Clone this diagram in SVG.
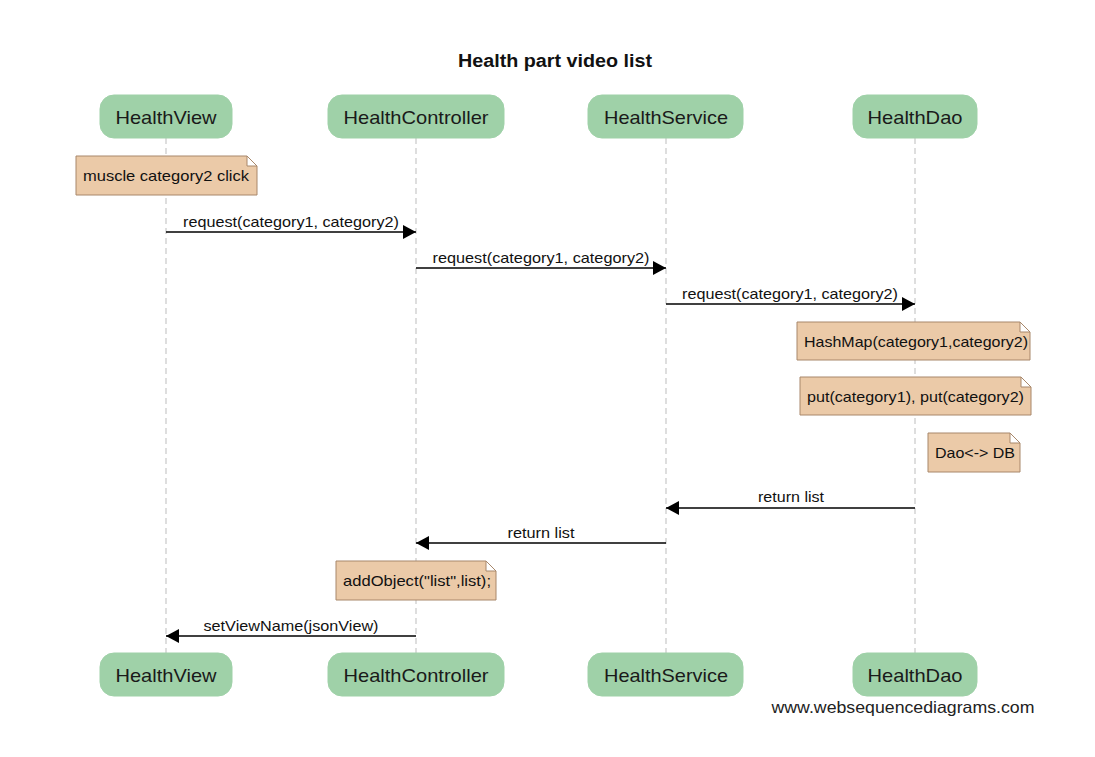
<svg xmlns="http://www.w3.org/2000/svg" width="1095" height="757" viewBox="0 0 1095 757">
<defs>
<style>
.part rect{fill:#9fd1a8;stroke:#9fd1a8;stroke-width:1}
.part text{font-family:"Liberation Sans",Arial,sans-serif;font-size:18.5px;fill:#1a1a1a;text-anchor:middle}
.note path{fill:#ebcaa8;stroke:#a8876a;stroke-width:1}
.note text{font-family:"Liberation Sans",Arial,sans-serif;font-size:15px;fill:#111;text-anchor:middle}
.life{stroke:#bdbdbd;stroke-width:1;stroke-dasharray:6,4;fill:none}
.msg line{stroke:#000;stroke-width:1.3}
.msg text{font-family:"Liberation Sans",Arial,sans-serif;font-size:15px;fill:#111;text-anchor:middle}
.title{font-family:"Liberation Sans",Arial,sans-serif;font-size:17.5px;font-weight:bold;fill:#111;text-anchor:middle}
.wm{font-family:"Liberation Sans",Arial,sans-serif;font-size:16.5px;fill:#222;text-anchor:middle}
</style>
<marker id="ah" markerWidth="13" markerHeight="14" refX="13" refY="7" orient="auto" markerUnits="userSpaceOnUse">
<path d="M0,0 L13,7 L0,14 Z" fill="#000"/>
</marker>
</defs>
<rect width="1095" height="757" fill="#fff"/>
<text class="title" x="555" y="67" textLength="194" lengthAdjust="spacingAndGlyphs">Health part video list</text>

<g id="lifelines">
<line class="life" x1="166" y1="138" x2="166" y2="653"/>
<line class="life" x1="416" y1="138" x2="416" y2="653"/>
<line class="life" x1="666" y1="138" x2="666" y2="653"/>
<line class="life" x1="915" y1="138" x2="915" y2="653"/>
</g>

<g id="HealthView" class="part">
<rect x="100" y="95" width="132" height="43" rx="14"/>
<text x="166" y="124" textLength="101" lengthAdjust="spacingAndGlyphs">HealthView</text>
<rect x="100" y="653" width="132" height="43" rx="14"/>
<text x="166" y="682" textLength="101" lengthAdjust="spacingAndGlyphs">HealthView</text>
</g>
<g id="HealthController" class="part">
<rect x="328" y="95" width="176" height="43" rx="14"/>
<text x="416" y="124" textLength="145" lengthAdjust="spacingAndGlyphs">HealthController</text>
<rect x="328" y="653" width="176" height="43" rx="14"/>
<text x="416" y="682" textLength="145" lengthAdjust="spacingAndGlyphs">HealthController</text>
</g>
<g id="HealthService" class="part">
<rect x="588" y="95" width="155" height="43" rx="14"/>
<text x="666" y="124" textLength="124" lengthAdjust="spacingAndGlyphs">HealthService</text>
<rect x="588" y="653" width="155" height="43" rx="14"/>
<text x="666" y="682" textLength="124" lengthAdjust="spacingAndGlyphs">HealthService</text>
</g>
<g id="HealthDao" class="part">
<rect x="853" y="95" width="124" height="43" rx="14"/>
<text x="915" y="124" textLength="95" lengthAdjust="spacingAndGlyphs">HealthDao</text>
<rect x="853" y="653" width="124" height="43" rx="14"/>
<text x="915" y="682" textLength="95" lengthAdjust="spacingAndGlyphs">HealthDao</text>
</g>

<g id="note-muscle" class="note">
<path d="M76,156 H247 L257,166 V195 H76 Z M247,156 V166 H257"/>
<text x="166" y="181" textLength="166" lengthAdjust="spacingAndGlyphs">muscle category2 click</text>
</g>
<g id="note-hashmap" class="note">
<path d="M797,322 H1020 L1030,332 V360 H797 Z M1020,322 V332 H1030"/>
<text x="916" y="347" textLength="224" lengthAdjust="spacingAndGlyphs">HashMap(category1,category2)</text>
</g>
<g id="note-put" class="note">
<path d="M800,377 H1021 L1031,387 V415 H800 Z M1021,377 V387 H1031"/>
<text x="915.5" y="402" textLength="217" lengthAdjust="spacingAndGlyphs">put(category1), put(category2)</text>
</g>
<g id="note-dao" class="note">
<path d="M928,433 H1010 L1020,443 V472 H928 Z M1010,433 V443 H1020"/>
<text x="975" y="458" textLength="80" lengthAdjust="spacingAndGlyphs">Dao&lt;-&gt; DB</text>
</g>
<g id="note-addobject" class="note">
<path d="M336,561 H486 L496,571 V600 H336 Z M486,561 V571 H496"/>
<text x="417" y="586" textLength="148" lengthAdjust="spacingAndGlyphs">addObject("list",list);</text>
</g>

<g id="connectors" class="msg">
<line x1="166" y1="232" x2="416" y2="232" marker-end="url(#ah)"/>
<text x="291" y="227" textLength="216" lengthAdjust="spacingAndGlyphs">request(category1, category2)</text>
<line x1="416" y1="268" x2="666" y2="268" marker-end="url(#ah)"/>
<text x="541" y="263" textLength="217" lengthAdjust="spacingAndGlyphs">request(category1, category2)</text>
<line x1="666" y1="304" x2="915" y2="304" marker-end="url(#ah)"/>
<text x="790" y="299" textLength="216" lengthAdjust="spacingAndGlyphs">request(category1, category2)</text>
<line x1="915" y1="508" x2="666" y2="508" marker-end="url(#ah)"/>
<text x="791" y="502" textLength="66" lengthAdjust="spacingAndGlyphs">return list</text>
<line x1="666" y1="543" x2="416" y2="543" marker-end="url(#ah)"/>
<text x="541" y="538" textLength="67" lengthAdjust="spacingAndGlyphs">return list</text>
<line x1="416" y1="636" x2="166" y2="636" marker-end="url(#ah)"/>
<text x="291" y="631" textLength="175" lengthAdjust="spacingAndGlyphs">setViewName(jsonView)</text>
</g>

<text class="wm" x="903" y="713" textLength="263" lengthAdjust="spacingAndGlyphs">www.websequencediagrams.com</text>
</svg>
